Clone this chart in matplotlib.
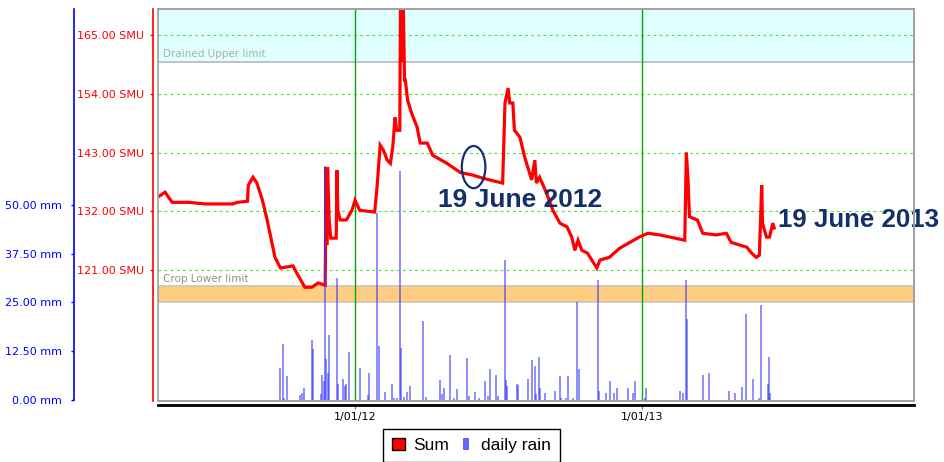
import numpy as np
import matplotlib
matplotlib.use("Agg")
import matplotlib.pyplot as plt
import matplotlib.dates as mdates
from matplotlib.patches import Ellipse, Patch, Rectangle
from matplotlib.legend_handler import HandlerPatch

# soil moisture ("Sum") trace, days relative to 1 Jan 2012
sum_days = [-249, -242, -233, -212, -191, -156, -150, -137, -136, -130, -125, -118,
            -112, -106, -102, -95, -79, -74, -64, -55, -47, -38, -37, -36, -35, -33,
            -31, -24, -23, -22, -19, -11, -4, 0, 6, 25, 28, 32, 36, 41, 45, 48, 51,
            53, 57, 58, 60, 61, 63, 64, 67, 72, 79, 83, 92, 99, 117, 134, 150, 163,
            188, 191, 195, 197, 201, 203, 210, 216, 225, 229, 231, 235, 244, 252,
            261, 270, 276, 280, 284, 289, 296, 308, 312, 324, 337, 350, 362, 373,
            388, 401, 420, 422, 424, 426, 436, 443, 460, 473, 479, 490, 499, 505,
            511, 515, 518, 519, 524, 528, 532, 534]
sum_smu = [134.9, 135.6, 133.7, 133.7, 133.4, 133.4, 133.7, 133.9, 136.9, 138.4, 137.3, 134.1,
           130.4, 126.2, 123.4, 121.4, 121.8, 120.4, 117.8, 117.8, 118.6, 118.2, 140.3, 125.7,
           140.3, 130.4, 127.0, 127.0, 139.7, 132.2, 130.4, 130.4, 132.2, 134.1, 132.2, 131.9,
           136.5, 144.4, 143.5, 141.6, 141.0, 144.0, 149.6, 147.2, 147.2, 175.0, 160.0, 175.0,
           156.6, 156.6, 152.8, 150.4, 147.8, 144.8, 144.8, 142.5, 141.0, 139.3, 138.8, 138.2,
           137.3, 152.3, 155.1, 152.3, 152.3, 147.2, 145.9, 142.2, 137.9, 141.6, 137.3, 138.4,
           135.4, 132.2, 129.8, 129.1, 127.2, 124.7, 126.6, 124.7, 124.2, 121.4, 122.9, 123.4,
           125.1, 126.2, 127.2, 127.9, 127.6, 127.2, 126.6, 143.0, 138.4, 131.0, 130.4, 127.9,
           127.6, 127.9, 126.2, 125.7, 125.3, 124.2, 123.4, 123.8, 136.9, 129.8, 127.2, 127.2,
           129.8, 128.9]

# daily rain, days relative to 1 Jan 2012
rain_days = [-96, -92, -91, -87, -70, -68, -65, -55, -53, -43, -42, -39, -38, -37, -35, -33,
             -23, -22, -15, -13, -11, -8, 6, 16, 18, 28, 31, 38, 47, 50, 53, 57, 58, 62, 66,
             70, 86, 91, 108, 111, 113, 121, 126, 130, 143, 145, 153, 158, 165, 169, 172,
             180, 182, 191, 192, 194, 206, 208, 220, 226, 229, 230, 234, 235, 242, 255, 261,
             262, 269, 271, 278, 283, 285, 310, 311, 320, 325, 330, 334, 348, 354, 357, 369,
             371, 414, 418, 422, 423, 443, 451, 476, 484, 493, 498, 507, 515, 517, 526, 527, 529]
rain_mm = [8.1, 14.3, 0.5, 6.0, 1.3, 1.7, 3.0, 15.4, 13.0, 1.5, 6.4, 4.7, 59.9, 10.4, 6.8, 16.6,
           31.3, 4.1, 5.4, 3.6, 4.1, 12.2, 8.1, 1.3, 6.8, 47.9, 13.9, 1.9, 4.1, 0.5, 0.5, 58.6,
           13.2, 0.8, 2.1, 3.6, 20.1, 0.8, 5.0, 1.4, 3.0, 11.5, 0.5, 2.7, 10.8, 1.0, 1.9, 0.5,
           4.7, 1.0, 7.9, 6.4, 1.0, 35.9, 5.1, 3.5, 4.1, 3.7, 5.4, 10.2, 8.7, 1.5, 10.9, 3.0,
           1.7, 2.3, 6.1, 0.5, 0.5, 6.1, 0.5, 25.0, 7.9, 30.7, 2.3, 1.7, 4.7, 1.7, 3.0, 3.0,
           1.7, 4.7, 0.5, 3.0, 2.3, 1.7, 30.7, 20.7, 6.4, 6.8, 2.3, 1.7, 3.4, 21.9, 5.4, 0.5,
           24.3, 4.0, 10.9, 1.7]

smu_ticks = [121, 132, 143, 154, 165]
mm_ticks = [0, 12.5, 25, 37.5, 50]
year_starts = ["2012-01-01", "2013-01-01"]
year_labels = ["1/01/12", "1/01/13"]
upper_limit = 160
lower_band = (115, 118)

base = np.datetime64("2012-01-01")
to_date = lambda d: base + np.array(d).astype("timedelta64[D]")

navy = "#14306b"
fig = plt.figure(figsize=(9.45, 4.62), dpi=100)
ax = fig.add_axes([158 / 945, 61 / 462, 756 / 945, 392 / 462])

ax.set_xlim(to_date(-251), to_date(712))
ax.set_ylim(96.5, 169.9)

# limit bands
ax.axhspan(upper_limit, 180, facecolor="#e0ffff", edgecolor="none", zorder=0)
ax.axhline(upper_limit, color="#b8b8b8", lw=1.2, zorder=1)
ax.axhspan(*lower_band, facecolor="#ffcc80", edgecolor="none", zorder=0)
for v in lower_band:
    ax.axhline(v, color="#c8c4bc", lw=1.2, zorder=1)
ax.text(0.006, upper_limit + 0.6, "Drained Upper limit", transform=ax.get_yaxis_transform(),
        color="#a8b0b0", fontsize=7.5, va="bottom")
ax.text(0.006, lower_band[1] + 0.4, "Crop Lower limit", transform=ax.get_yaxis_transform(),
        color="#909090", fontsize=7.5, va="bottom")

for v in smu_ticks:
    ax.axhline(v, color="#55dd33", lw=0.8, ls=(0, (2.5, 3)), zorder=1)
for d in year_starts:
    ax.axvline(np.datetime64(d), color="#00aa00", lw=1, zorder=1)

ax.plot(to_date(sum_days), sum_smu, color="red", lw=2.3, zorder=3, solid_joinstyle="miter")

# annotations
c = mdates.date2num(to_date(151))
ax.add_patch(Ellipse((c, 140.3), 30, 7.9, fill=False, edgecolor=navy, lw=1.6, zorder=4))
ax.text(to_date(106), 134.1, "19 June 2012", color=navy, fontsize=19, fontweight="bold",
        family="Liberation Sans", va="center", ha="left", zorder=5)
ax.text(to_date(539), 130.4, "19 June 2013", color=navy, fontsize=18.6, fontweight="bold",
        family="Liberation Sans", va="center", ha="left", clip_on=False, zorder=5)

ax.set_yticks(smu_ticks)
ax.set_yticklabels([f"{v:.2f} SMU" for v in smu_ticks])
ax.set_xticks([np.datetime64(d) for d in year_starts])
ax.set_xticklabels(year_labels)
for s in ("top", "right"):
    ax.spines[s].set_visible(False)
ax.spines["left"].set_position(("outward", 3.6))
ax.spines["left"].set_color("red")
ax.spines["left"].set_linewidth(1.2)
ax.spines["bottom"].set_position(("outward", 3))
ax.spines["bottom"].set_color("black")
ax.spines["bottom"].set_linewidth(2)
ax.tick_params(axis="y", colors="red", labelsize=8, length=2.5, width=1, pad=4)
ax.tick_params(axis="x", colors="#707070", labelcolor="black", labelsize=8, length=3, pad=2)

# rain axis
ax2 = ax.twinx()
ax2.vlines(to_date(rain_days), 0, rain_mm, color="#3333ff", alpha=0.6, lw=1.3, zorder=2)
ax2.set_ylim(-0.3, 100.2)
ax2.yaxis.tick_left()
ax2.set_yticks(mm_ticks)
ax2.set_yticklabels([f"{v:.2f} mm" for v in mm_ticks])
ax2.spines["left"].set_visible(True)
ax2.spines["left"].set_position(("outward", 60.5))
ax2.spines["left"].set_color("blue")
ax2.spines["left"].set_linewidth(1.2)
ax2.spines["left"].set_bounds(0, 100.2)
for s in ("top", "right", "bottom"):
    ax2.spines[s].set_color("#a0a0a0")
    ax2.spines[s].set_linewidth(1.2)
ax2.add_patch(Rectangle((0, 0), 1, 1, transform=ax2.transAxes, fill=False,
                        edgecolor="#a0a0a0", lw=1.2, clip_on=False))
ax2.tick_params(axis="y", colors="blue", labelsize=8, length=2.5, width=1, pad=6)


def narrow_patch(legend, orig_handle, xdescent, ydescent, width, height, fontsize):
    return Rectangle((-xdescent + width * 0.25, -ydescent), width * 0.5, height)


handles = [Patch(facecolor="red", edgecolor="black", lw=1),
           Patch(facecolor="#6666ff", edgecolor="none")]
fig.legend(handles, ["Sum", "daily rain"], loc="upper left",
           bbox_to_anchor=(383 / 945, 1 - 429 / 462), ncol=2, fancybox=False,
           edgecolor="black", framealpha=1, handlelength=0.75,
           handleheight=0.75, handletextpad=0.5, columnspacing=0.6, borderpad=0.5,
           borderaxespad=0, prop={"family": "Liberation Sans", "size": 12.5},
           handler_map={handles[1]: HandlerPatch(patch_func=narrow_patch)})

fig.savefig("out.png", dpi=100)
